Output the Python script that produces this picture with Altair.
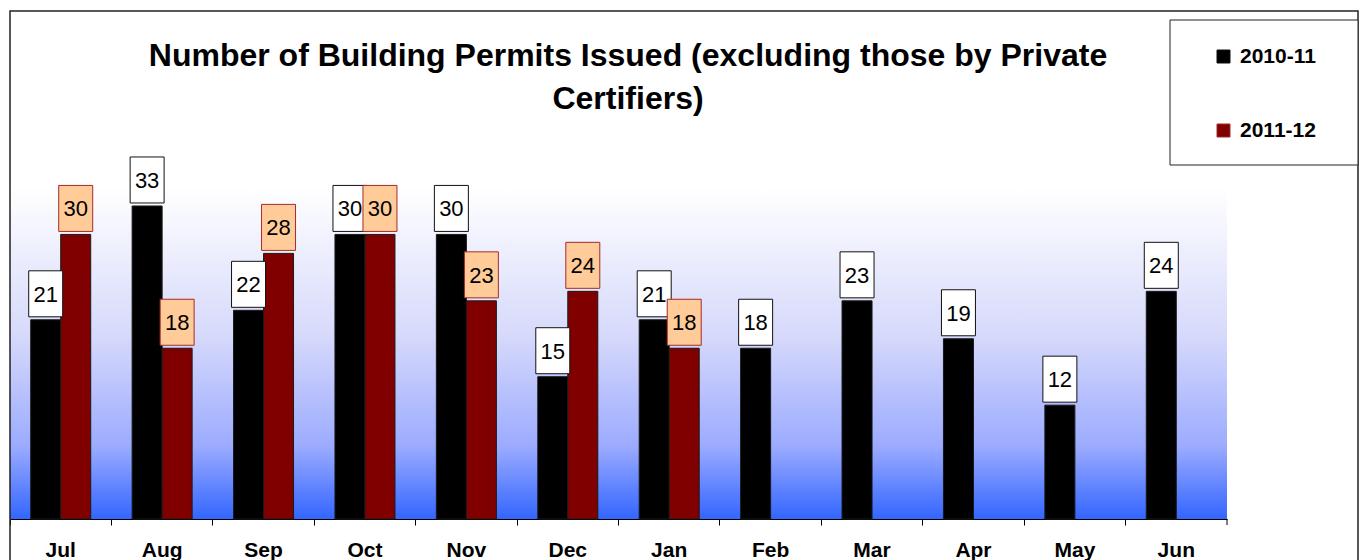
import altair as alt
import pandas as pd

months = ["Jul", "Aug", "Sep", "Oct", "Nov", "Dec", "Jan", "Feb", "Mar", "Apr", "May", "Jun"]
series = ["2010-11", "2011-12"]
permits_2010_11 = [21, 33, 22, 30, 30, 15, 21, 18, 23, 19, 12, 24]
permits_2011_12 = [30, 18, 28, 30, 23, 24, 18]
title_lines = ["Number of Building Permits Issued (excluding those by Private", "Certifiers)"]

rows = []
for m, v in zip(months, permits_2010_11):
    rows.append({"month": m, "series": "2010-11", "value": v})
for m, v in zip(months, permits_2011_12):
    rows.append({"month": m, "series": "2011-12", "value": v})
df = pd.DataFrame(rows)

W, H = 1217, 332
FONT = "Liberation Sans"

x_enc = alt.X(
    "month:N",
    sort=months,
    scale=alt.Scale(paddingInner=0, paddingOuter=0),
    axis=alt.Axis(
        title=None,
        labelAngle=0,
        bandPosition=0,
        labelFont=FONT,
        labelFontSize=21,
        labelFontWeight="bold",
        labelColor="black",
        labelPadding=14,
        tickSize=6,
        tickColor="black",
        domainColor="black",
        domainWidth=1,
        grid=False,
    ),
)
xo_enc = alt.XOffset("series:N", sort=series, scale=alt.Scale(paddingOuter=0.69, paddingInner=0))
y_enc = alt.Y("value:Q", scale=alt.Scale(domain=[0, 35], nice=False, zero=True), axis=None)

one = alt.Data(values=[{"k": 1}])

background = alt.Chart(one).mark_rect(
    color=alt.Gradient(
        gradient="linear",
        x1=0, x2=0, y1=0, y2=1,
        stops=[
            alt.GradientStop(color="#FFFFFF", offset=0),
            alt.GradientStop(color="#D6D9FB", offset=0.45),
            alt.GradientStop(color="#9CABFF", offset=0.78),
            alt.GradientStop(color="#3366FF", offset=1),
        ],
    )
).encode(x=alt.value(0), x2=alt.value(W), y=alt.value(0), y2=alt.value(H))

outer_border = alt.Chart(one).mark_rect(fill="transparent", stroke="#222222", strokeWidth=1.5).encode(
    x=alt.value(0), x2=alt.value(1348), y=alt.value(-176), y2=alt.value(420)
)

legend_box = alt.Chart(one).mark_rect(fill="white", stroke="#222222", strokeWidth=1).encode(
    x=alt.value(1160), x2=alt.value(1348), y=alt.value(-167), y2=alt.value(-22)
)

title = alt.Chart(one).mark_text(
    text=title_lines,
    font=FONT,
    fontSize=32,
    fontWeight="bold",
    color="black",
    align="center",
    baseline="alphabetic",
    lineHeight=43,
).encode(x=alt.value(618), y=alt.value(-121))

bars = alt.Chart(df).mark_bar(stroke="#1a1a1a", strokeWidth=1).encode(
    x=x_enc,
    xOffset=xo_enc,
    y=y_enc,
    color=alt.Color(
        "series:N",
        sort=series,
        scale=alt.Scale(domain=series, range=["#000000", "#800000"]),
        legend=alt.Legend(
            title=None,
            orient="none",
            legendX=1203,
            legendY=-141,
            symbolType="square",
            symbolSize=169,
            symbolStrokeColor="black",
            symbolStrokeWidth=1,
            labelFont=FONT,
            labelFontSize=21,
            labelFontWeight="bold",
            labelColor="black",
            labelOffset=6,
            rowPadding=52,
            padding=0,
        ),
    ),
)

end_tick = alt.Chart(one).mark_rule(color="black", strokeWidth=1).encode(
    x=alt.value(W), y=alt.value(H), y2=alt.value(H + 6)
)

boxes = alt.Chart(df).mark_point(
    shape="M-0.739,-1H0.739V1H-0.739Z",
    size=2116,
    filled=True,
    opacity=1,
    strokeWidth=1,
    yOffset=-26,
).encode(
    x=x_enc,
    xOffset=xo_enc,
    y=y_enc,
    fill=alt.Fill("series:N", sort=series, scale=alt.Scale(domain=series, range=["#FFFFFF", "#FFCC99"]), legend=None),
    stroke=alt.Stroke("series:N", sort=series, scale=alt.Scale(domain=series, range=["#111111", "#A52A2A"]), legend=None),
)

labels = alt.Chart(df).mark_text(
    font=FONT, fontSize=22, color="black", baseline="middle", align="center", yOffset=-25
).encode(x=x_enc, xOffset=xo_enc, y=y_enc, text=alt.Text("value:Q"))

chart = alt.layer(background, outer_border, legend_box, title, bars, end_tick, boxes, labels).properties(
    width=W,
    height=H,
    padding={"left": 10, "top": 187, "right": 134, "bottom": 41},
    autosize=alt.AutoSizeParams(type="none"),
).configure_view(stroke=None)

chart.save("out.html", embed_options={"renderer": "svg", "actions": False})
